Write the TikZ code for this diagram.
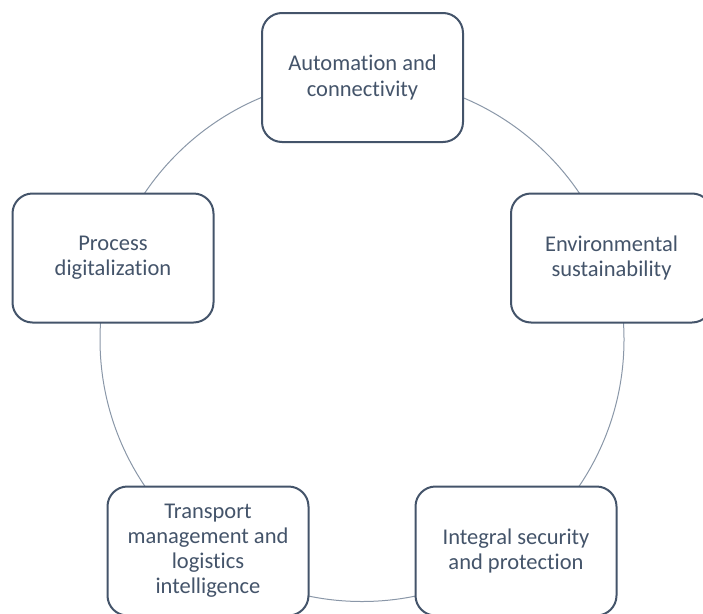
\documentclass[tikz,border=0pt]{standalone}
\usepackage{fontspec}
\setmainfont[Ligatures=NoCommon]{Carlito}
\begin{document}
\begin{tikzpicture}[x=1pt,y=-1pt,
  ring/.style={draw=ringgray,line width=1pt},
  topic/.style={draw=slate,line width=2pt,rounded corners=20pt,fill=white,
    minimum width=201pt,minimum height=129pt,inner sep=0pt,align=center,
    text=slate,font=\fontsize{22.5}{25}\selectfont}]
\definecolor{slate}{HTML}{44546A}
\definecolor{ringgray}{HTML}{8A97A8}
\useasboundingbox (0,0) rectangle (703,613);
\coordinate (c) at (362,339.5);
\draw[ring] (c) circle[radius=262pt];
\node[topic] (auto) at (362.5,77.5) {Automation and\\connectivity};
\node[topic] (env)  at (611.5,258) {Environmental\\sustainability};
\node[topic] (proc) at (113,258) {Process\\digitalization};
\node[topic] (sec)  at (516,551) {Integral security\\and protection};
\node[topic] (trans) at (208,551) {Transport\\management and\\logistics\\intelligence};
\end{tikzpicture}
\end{document}
